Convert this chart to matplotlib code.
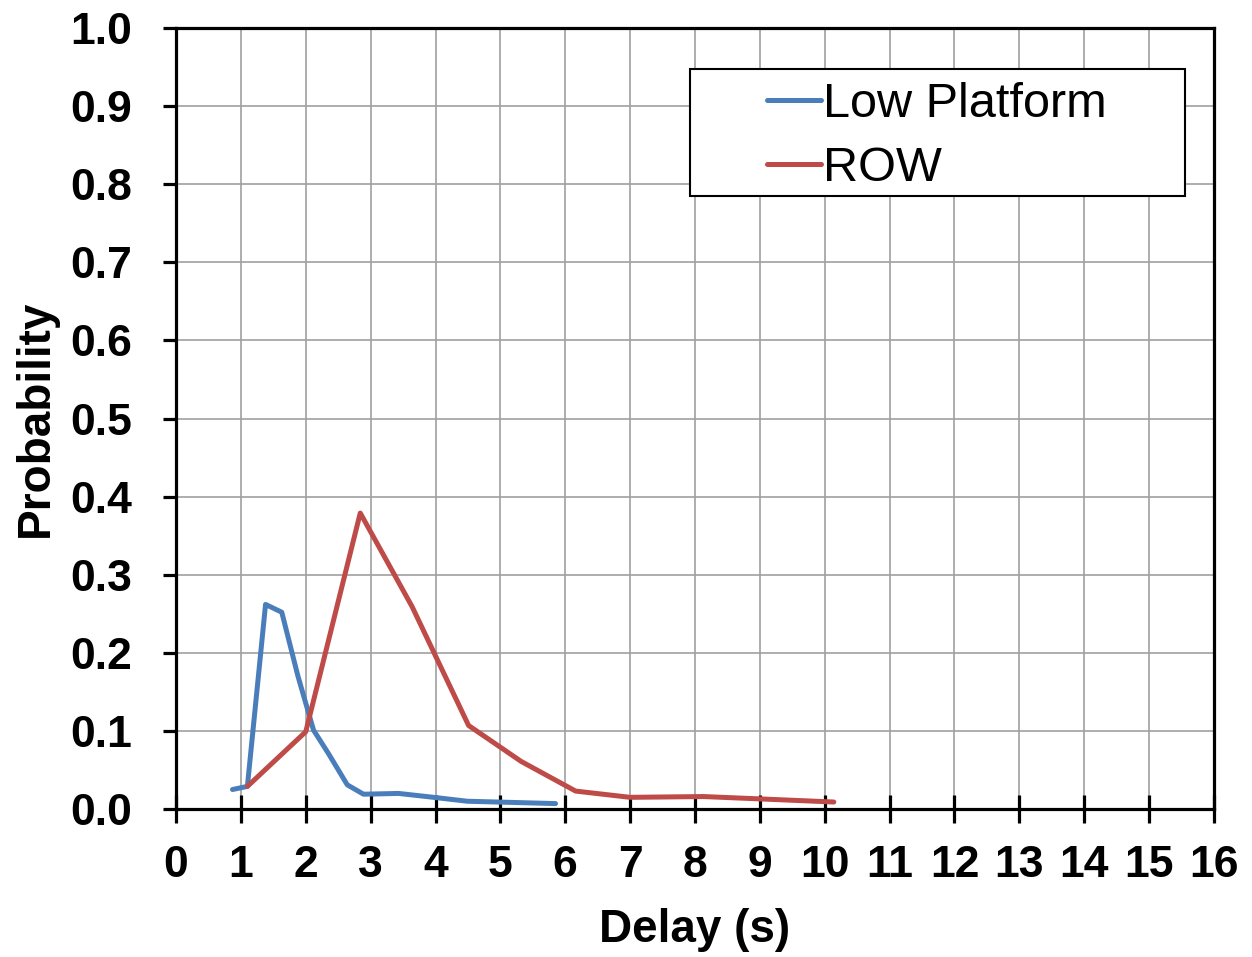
import matplotlib.pyplot as plt
from matplotlib.patches import Rectangle

plt.rcParams['font.family'] = ['Liberation Sans', 'DejaVu Sans']

# Low Platform
low_x = [0.87, 1.10, 1.38, 1.63, 1.88, 2.12, 2.35, 2.64, 2.89, 3.43, 3.97, 4.49, 5.85]
low_y = [0.025, 0.029, 0.262, 0.252, 0.170, 0.101, 0.071, 0.031, 0.019, 0.020, 0.015, 0.010, 0.007]

# ROW
row_x = [1.10, 2.00, 2.84, 3.64, 4.51, 5.32, 6.16, 7.00, 8.13, 9.00, 10.14]
row_y = [0.029, 0.099, 0.379, 0.259, 0.107, 0.061, 0.023, 0.015, 0.016, 0.013, 0.009]

x_ticks = list(range(0, 17))
y_ticks = [i / 10 for i in range(11)]

fig = plt.figure(figsize=(12.52, 9.57), dpi=100)
ax = fig.add_axes([0.1406, 0.1546, 0.829, 0.8161])

ax.plot(low_x, low_y, color='#4a7ebb', lw=3.6, label='Low Platform', solid_capstyle='round')
ax.plot(row_x, row_y, color='#be4b48', lw=3.6, label='ROW', solid_capstyle='round')

ax.set_xlim(0, 16)
ax.set_ylim(0, 1.0)
ax.set_xticks(x_ticks)
ax.set_yticks(y_ticks)
ax.set_yticklabels([f'{v:.1f}' for v in y_ticks])
ax.grid(True, color='#a0a0a0', lw=1.2)
ax.set_axisbelow(True)

for s in ax.spines.values():
    s.set_linewidth(2.3)
    s.set_color('black')

ax.tick_params(axis='x', direction='inout', length=20, width=2.3, labelsize=32, pad=16)
ax.tick_params(axis='y', direction='out', length=9.5, width=2.3, labelsize=32, pad=22)
for lbl in ax.get_xticklabels() + ax.get_yticklabels():
    lbl.set_fontweight('bold')

ax.set_xlabel('Delay (s)', fontsize=33, fontweight='bold', labelpad=16)
ax.set_ylabel('Probability', fontsize=33, fontweight='bold', labelpad=9)

# legend frame drawn as a box, entries placed inside it
ax.add_patch(Rectangle((0.495, 0.785), 0.477, 0.1625, transform=ax.transAxes,
                       facecolor='white', edgecolor='black', lw=1.5, zorder=5))
leg = ax.legend(loc='upper left', bbox_to_anchor=(0.558, 0.947), fontsize=35,
                handlelength=1.1, handletextpad=0.05, borderpad=0.25,
                labelspacing=0.4, frameon=False, borderaxespad=0)
leg.set_zorder(6)

fig.savefig('out.png', dpi=100)
